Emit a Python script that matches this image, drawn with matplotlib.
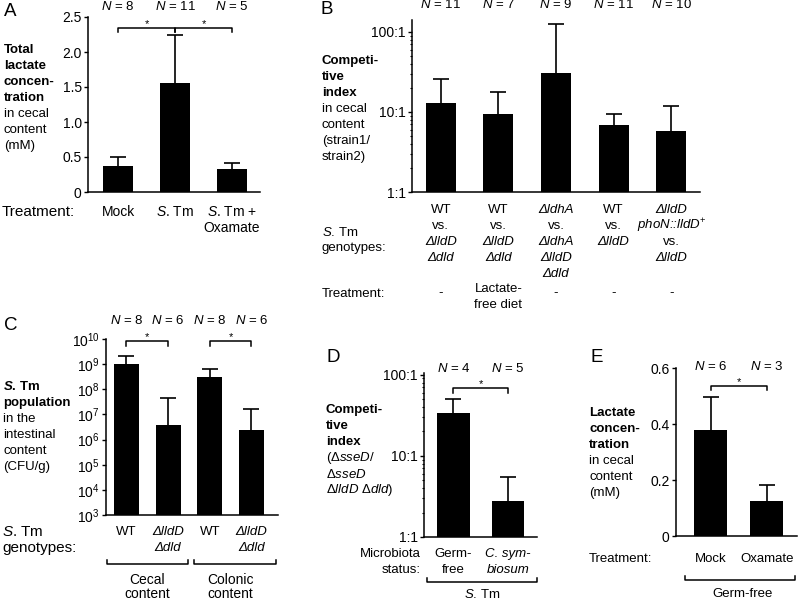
import numpy as np
import matplotlib
matplotlib.use("Agg")
import matplotlib.pyplot as plt
from matplotlib.lines import Line2D
from matplotlib.ticker import FixedLocator, LogLocator, NullFormatter, FixedFormatter
from matplotlib.transforms import blended_transform_factory as blend

# --- data (bar = mean, error = upper SD) -----------------------------------
a_labels = [["Mock"], [r"$\mathit{S}$. Tm"], [r"$\mathit{S}$. Tm +", "Oxamate"]]
a_mean = [0.37, 1.56, 0.33]
a_sd = [0.13, 0.68, 0.09]
a_n = [8, 11, 5]

b_genotypes = [["WT", "vs.", "ΔlldD", "Δdld"],
               ["WT", "vs.", "ΔlldD", "Δdld"],
               ["ΔldhA", "vs.", "ΔldhA", "ΔlldD", "Δdld"],
               ["WT", "vs.", "ΔlldD"],
               ["ΔlldD", r"phoN::lldD$^{+}$", "vs.", "ΔlldD"]]
b_treatment = [["-"], ["Lactate-", "free diet"], ["-"], ["-"], ["-"]]
b_mean = [13.0, 9.4, 31.0, 6.9, 5.8]
b_sd = [13.0, 8.6, 95.0, 2.5, 6.1]
b_n = [11, 7, 9, 11, 10]

c_genotypes = [["WT"], ["ΔlldD", "Δdld"], ["WT"], ["ΔlldD", "Δdld"]]
c_sites = [["Cecal", "content"], ["Colonic", "content"]]
c_mean = [1.0e9, 3.7e6, 3.0e8, 2.3e6]
c_sd = [1.2e9, 4.2e7, 3.7e8, 1.37e7]
c_n = [8, 6, 8, 6]

d_status = [["Germ-", "free"], ["C. sym-", "biosum"]]
d_mean = [34.0, 2.8]
d_sd = [16.0, 2.7]
d_n = [4, 5]

e_labels = ["Mock", "Oxamate"]
e_mean = [0.38, 0.126]
e_sd = [0.116, 0.056]
e_n = [6, 3]

W, H = 800, 602
plt.rcParams.update({
    "font.family": ["Liberation Sans", "DejaVu Sans"], "font.size": 9.5,
    "mathtext.fontset": "custom", "mathtext.rm": "Liberation Sans",
    "mathtext.it": "Liberation Sans:italic", "mathtext.bf": "Liberation Sans:bold",
    "mathtext.bfit": "Liberation Sans:italic:bold",
    "axes.linewidth": 1.1, "ytick.major.size": 3, "ytick.major.width": 1.0,
    "ytick.minor.size": 1.8, "ytick.minor.width": 0.8, "ytick.major.pad": 1.5,
    "ytick.labelsize": 10,
    "axes.spines.top": False, "axes.spines.right": False,
})
fig = plt.figure(figsize=(W / 100, H / 100), dpi=100)


def pax(l, t, r, b):
    """Axes from a pixel box (top-left origin)."""
    ax = fig.add_axes([l / W, 1 - b / H, (r - l) / W, (b - t) / H])
    ax.set_xticks([])
    ax.spines["bottom"].set_zorder(3)
    return ax


def ftext(x, y, s, **kw):
    kw.setdefault("va", "center")
    return fig.text(x / W, 1 - y / H, s, **kw)


def stack(x, y0, items, step=16, **kw):
    for i, s in enumerate(items):
        if isinstance(s, tuple):
            s, extra = s
            ftext(x, y0 + i * step, s, **{**kw, **extra})
        else:
            ftext(x, y0 + i * step, s, **kw)


def fline(xs, ys):
    fig.add_artist(Line2D([x / W for x in xs], [1 - y / H for y in ys],
                          color="black", lw=1.1))


def bars(ax, mean, sd, width):
    x = np.arange(len(mean))
    mean, sd = np.asarray(mean), np.asarray(sd)
    ax.bar(x, mean, width, color="black", zorder=2)
    # upper error only: stem + cap
    ax.vlines(x, mean, mean + sd, color="black", lw=1.2, zorder=1)
    ax.plot(x, mean + sd, ls="none", marker="_", ms=11, mew=1.2, color="black",
            zorder=1, clip_on=False)
    return x


def xtext(ax, x, y, s, **kw):
    kw.setdefault("va", "center")
    kw.setdefault("ha", "center")
    ax.text(x, 1 - y / H, s, transform=blend(ax.transData, fig.transFigure), **kw)


def ns(ax, n, y):
    for i, v in enumerate(n):
        xtext(ax, i, y, r"$\mathit{N}$ = %d" % v)


def sig(ax, x0, x1, y, tip, star):
    tr = blend(ax.transData, ax.transAxes)
    ax.plot([x0, x0, x1, x1], [tip, y, y, tip], color="black", lw=1.1,
            transform=tr, clip_on=False)
    ax.text((x0 + x1) / 2, star, "*", ha="center", va="center", fontsize=8,
            transform=tr)


def ital(s):
    return {"style": "italic"} if s not in ("WT", "vs.", "-") else {}


# --- A ----------------------------------------------------------------------
ax = pax(88, 17, 260, 192)
bars(ax, a_mean, a_sd, 0.53)
ax.set_xlim(-0.53, 2.49)
ax.set_ylim(0, 2.5)
ax.yaxis.set_major_locator(FixedLocator([0, 0.5, 1.0, 1.5, 2.0, 2.5]))
ax.yaxis.set_major_formatter(FixedFormatter(["0", "0.5", "1.0", "1.5", "2.0", "2.5"]))
ns(ax, a_n, 7)
sig(ax, 0, 1, 0.936, 0.915, 0.962)
sig(ax, 1, 2, 0.936, 0.915, 0.962)
for i, lab in enumerate(a_labels):
    for j, s in enumerate(lab):
        xtext(ax, i, 212 + 16 * j, s, fontsize=10)
ftext(2, 212, "Treatment:", fontsize=11)
stack(4, 50, [("Total", {"weight": "bold"}), ("lactate", {"weight": "bold"}),
              ("concen-", {"weight": "bold"}), ("tration", {"weight": "bold"}),
              "in cecal", "content", "(mM)"])
ftext(4, 12, "A", fontsize=13.5)

# --- B ----------------------------------------------------------------------
ax = pax(412, 20, 700, 192)
ax.set_yscale("log")
bars(ax, b_mean, b_sd, 0.52)
ax.set_xlim(-0.5, 4.5)
ax.set_ylim(1, 141)
ax.yaxis.set_major_locator(FixedLocator([1, 10, 100]))
ax.yaxis.set_major_formatter(FixedFormatter(["1:1", "10:1", "100:1"]))
ax.yaxis.set_minor_locator(LogLocator(subs=np.arange(2, 10)))
ax.yaxis.set_minor_formatter(NullFormatter())
ns(ax, b_n, 5)
for i, lab in enumerate(b_genotypes):
    for j, s in enumerate(lab):
        xtext(ax, i, 210 + 16 * j, s, **ital(s))
for i, lab in enumerate(b_treatment):
    y0 = 293 if len(lab) == 1 else 289
    for j, s in enumerate(lab):
        xtext(ax, i, y0 + 16 * j, s)
stack(322, 232, [r"$\mathit{S}$. Tm", "genotypes:"])
ftext(322, 294, "Treatment:")
stack(322, 61, [("Competi-", {"weight": "bold"}), ("tive", {"weight": "bold"}),
                ("index", {"weight": "bold"}), "in cecal", "content",
                "(strain1/", "strain2)"])
ftext(321, 9, "B", fontsize=13.5)

# --- C ----------------------------------------------------------------------
ax = pax(106, 339, 278, 515)
ax.set_yscale("log")
bars(ax, c_mean, c_sd, 0.6)
ax.set_xlim(-0.49, 3.64)
ax.set_ylim(1e3, 1e10)
ax.yaxis.set_major_locator(FixedLocator([10.0 ** k for k in range(3, 11)]))
ax.yaxis.set_major_formatter(FixedFormatter([r"$10^{%d}$" % k for k in range(3, 11)]))
ax.yaxis.set_minor_locator(FixedLocator([]))
ns(ax, c_n, 320)
sig(ax, 0, 1, 0.989, 0.96, 1.012)
sig(ax, 2, 3, 0.989, 0.96, 1.012)
for i, lab in enumerate(c_genotypes):
    for j, s in enumerate(lab):
        xtext(ax, i, 532 + 16 * j, s, **ital(s))
fline([107, 107, 188, 188], [560, 564, 564, 560])
fline([194, 194, 276, 276], [560, 564, 564, 560])
for i, lab in enumerate(c_sites):
    for j, s in enumerate(lab):
        xtext(ax, 0.5 + 2 * i, 580 + 14.5 * j, s, fontsize=10)
stack(2, 532, [r"$\mathit{S}$. Tm", "genotypes:"], fontsize=11)
stack(3, 387, [(r"$\mathbfit{S}$. Tm", {"weight": "bold"}),
               ("population", {"weight": "bold"}), "in the", "intestinal",
               "content", "(CFU/g)"])
ftext(4, 325, "C", fontsize=13.5)

# --- D ----------------------------------------------------------------------
ax = pax(424, 373, 537, 537)
ax.set_yscale("log")
bars(ax, d_mean, d_sd, 0.6)
ax.set_xlim(-0.54, 1.53)
ax.set_ylim(1, 105)
ax.yaxis.set_major_locator(FixedLocator([1, 10, 100]))
ax.yaxis.set_major_formatter(FixedFormatter(["1:1", "10:1", "100:1"]))
ax.yaxis.set_minor_locator(LogLocator(subs=np.arange(2, 10)))
ax.yaxis.set_minor_formatter(NullFormatter())
ns(ax, d_n, 368)
sig(ax, 0, 1, 0.909, 0.878, 0.935)
for i, lab in enumerate(d_status):
    for j, s in enumerate(lab):
        xtext(ax, i, 554 + 16 * j, s, **({"style": "italic"} if i == 1 else {}))
stack(421, 554, ["Microbiota", "status:"], ha="right")
fline([427, 427, 537, 537], [578, 582, 582, 578])
ftext(482, 594, r"$\mathit{S}$. Tm", ha="center")
stack(326, 410, [("Competi-", {"weight": "bold"}), ("tive", {"weight": "bold"}),
                 ("index", {"weight": "bold"}), r"(Δ$\mathit{sseD}$/",
                 r"Δ$\mathit{sseD}$", r"Δ$\mathit{lldD}$ Δ$\mathit{dld}$)"])
ftext(326, 357, "D", fontsize=13.5)

# --- E ----------------------------------------------------------------------
ax = pax(676, 368, 797, 536)
bars(ax, e_mean, e_sd, 0.59)
ax.set_xlim(-0.62, 1.54)
ax.set_ylim(0, 0.6)
ax.yaxis.set_major_locator(FixedLocator([0, 0.2, 0.4, 0.6]))
ax.yaxis.set_major_formatter(FixedFormatter(["0", "0.2", "0.4", "0.6"]))
ns(ax, e_n, 367)
sig(ax, 0, 1, 0.893, 0.869, 0.918)
for i, s in enumerate(e_labels):
    xtext(ax, i, 559, s)
ftext(589, 559, "Treatment:")
fline([685, 685, 795, 795], [576, 580, 580, 576])
ftext(743, 594, "Germ-free", ha="center")
stack(589, 413, [("Lactate", {"weight": "bold"}), ("concen-", {"weight": "bold"}),
                 ("tration", {"weight": "bold"}), "in cecal", "content", "(mM)"])
ftext(590, 357, "E", fontsize=13.5)

fig.savefig("out.png", dpi=100)
